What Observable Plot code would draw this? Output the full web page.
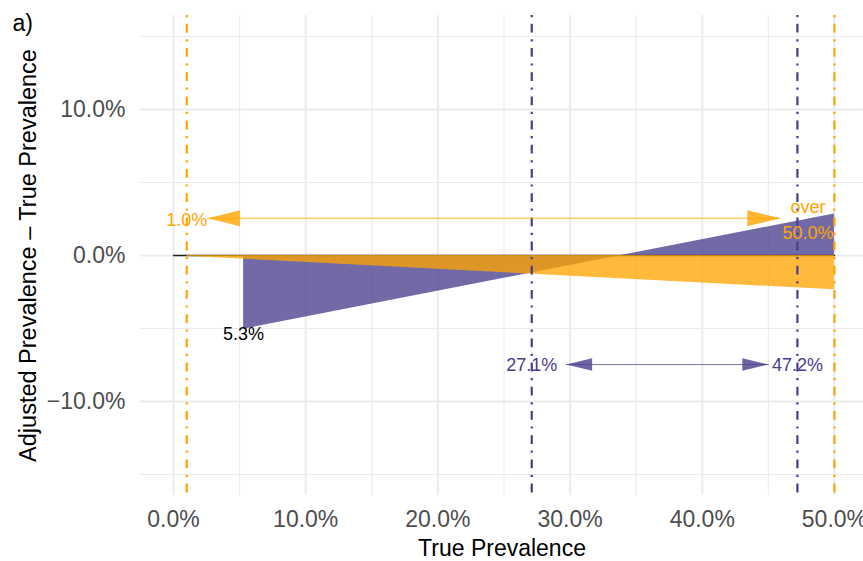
<!DOCTYPE html>
<html><head><meta charset="utf-8">
<script src="https://cdn.jsdelivr.net/npm/d3@7"></script>
<script src="https://cdn.jsdelivr.net/npm/@observablehq/plot@0.6"></script>
<style>body{margin:0;background:#fff}</style>
</head><body><div id="chart"></div>
<script>
// ---- data (values in percent) ----
const xMajor = [0, 10, 20, 30, 40, 50];
const xMinor = [5, 15, 25, 35, 45];
const yMajor = [-10, 0, 10];
const yMinor = [-15, -5, 5, 15];

const purpleX = [5.3, 50.0];
const purpleY = [-5.05, 2.85];
const orangeX = [1.0, 50.0];
const orangeY = [-0.05, -2.35];
const zeroLineX = [0, 50];

const orangeThresholds = [1.0, 50.0];
const purpleThresholds = [27.1, 47.2];

const orangeArrowX = [2.6, 45.9];
const orangeArrowY = [2.55, 2.55];
const purpleArrowX = [29.7, 45.0];
const purpleArrowY = [-7.47, -7.47];

const orangeLabels = ["1.0%", "over", "50.0%"];
const orangeLabelX = [1.0, 48.0, 48.0];
const orangeLabelY = [2.4, 3.3, 1.5];
const purpleLabels = ["27.1%", "47.2%"];
const purpleLabelX = [27.1, 47.2];
const purpleLabelY = [-7.5, -7.5];
const blackLabels = ["5.3%"];
const blackLabelX = [5.3];
const blackLabelY = [-5.4];

const PURPLE = "#483D8B";
const ORANGE = "#FFA500";

const pts = (xs, ys) => xs.map((x, i) => ({x, y: ys[i]}));
const labs = (ts, xs, ys) => ts.map((t, i) => ({t, x: xs[i], y: ys[i]}));

function head(dir, len, h) {
  return {draw(ctx) {
    ctx.moveTo(0, 0);
    ctx.lineTo(-dir * len, -h / 2);
    ctx.lineTo(-dir * len, h / 2);
    ctx.closePath();
  }};
}
const fmt = d => (d < 0 ? "\u2212" : "") + Math.abs(d).toFixed(1) + "%";
const dash = "2.2,6.6,8.8,6.6";

const orangeArrow = pts(orangeArrowX, orangeArrowY);
const purpleArrow = pts(purpleArrowX, purpleArrowY);

const chart = Plot.plot({
  width: 863,
  height: 561,
  marginLeft: 140,
  marginRight: 0,
  marginTop: 15,
  marginBottom: 66,
  style: {fontFamily: "'Liberation Sans', Arial, sans-serif", background: "#fff"},
  x: {domain: [-2.5, 52.2]},
  y: {domain: [-16.44, 16.44]},
  marks: [
    Plot.ruleX(xMinor, {stroke: "#ebebeb", strokeWidth: 1.1}),
    Plot.ruleY(yMinor, {stroke: "#ebebeb", strokeWidth: 1.1}),
    Plot.ruleX(xMajor, {stroke: "#ebebeb", strokeWidth: 2}),
    Plot.ruleY(yMajor, {stroke: "#ebebeb", strokeWidth: 2}),
    Plot.axisX(xMajor, {tickSize: 0, tickPadding: 15, fontSize: 23, tickFormat: fmt, color: "#4d4d4d", label: null}),
    Plot.axisY(yMajor, {tickSize: 0, tickPadding: 15, fontSize: 23, tickFormat: fmt, color: "#4d4d4d", label: null}),
    Plot.line(pts(zeroLineX, [0, 0]), {x: "x", y: "y", stroke: "#222", strokeWidth: 1.6}),
    Plot.areaY(pts(purpleX, purpleY), {x: "x", y1: 0, y2: "y", fill: PURPLE, fillOpacity: 0.77}),
    Plot.areaY(pts(orangeX, orangeY), {x: "x", y1: 0, y2: "y", fill: ORANGE, fillOpacity: 0.77}),
    Plot.ruleX(orangeThresholds, {stroke: ORANGE, strokeWidth: 2.2, strokeDasharray: dash}),
    Plot.ruleX(purpleThresholds, {stroke: PURPLE, strokeWidth: 2.2, strokeDasharray: dash}),
    Plot.line(orangeArrow, {x: "x", y: "y", stroke: ORANGE, strokeOpacity: 0.55, strokeWidth: 1.5}),
    Plot.dot([orangeArrow[0]], {x: "x", y: "y", symbol: head(-1, 32, 16), fill: ORANGE, fillOpacity: 0.8, stroke: "none"}),
    Plot.dot([orangeArrow[1]], {x: "x", y: "y", symbol: head(1, 33, 16), fill: ORANGE, fillOpacity: 0.8, stroke: "none"}),
    Plot.line(purpleArrow, {x: "x", y: "y", stroke: PURPLE, strokeOpacity: 0.7, strokeWidth: 1}),
    Plot.dot([purpleArrow[0]], {x: "x", y: "y", symbol: head(-1, 26, 12.5), fill: PURPLE, fillOpacity: 0.8, stroke: "none"}),
    Plot.dot([purpleArrow[1]], {x: "x", y: "y", symbol: head(1, 26, 12.5), fill: PURPLE, fillOpacity: 0.8, stroke: "none"}),
    Plot.text(labs(orangeLabels, orangeLabelX, orangeLabelY), {x: "x", y: "y", text: "t", fill: ORANGE, fontSize: 18}),
    Plot.text(labs(purpleLabels, purpleLabelX, purpleLabelY), {x: "x", y: "y", text: "t", fill: PURPLE, fontSize: 18}),
    Plot.text(labs(blackLabels, blackLabelX, blackLabelY), {x: "x", y: "y", text: "t", fill: "black", fontSize: 18}),
    Plot.text(["True Prevalence"], {frameAnchor: "bottom", dy: 53, lineAnchor: "middle", textAnchor: "middle", fontSize: 23, fill: "black"}),
    Plot.text(["Adjusted Prevalence \u2013 True Prevalence"], {frameAnchor: "left", dx: -112, rotate: -90, textAnchor: "middle", lineAnchor: "middle", fontSize: 23.5, fill: "black"}),
    Plot.text(["a)"], {frameAnchor: "top-left", dx: -128, dy: 8, textAnchor: "start", lineAnchor: "middle", fontSize: 23, fill: "black"})
  ]
});
document.getElementById("chart").appendChild(chart);
</script>
</body></html>
